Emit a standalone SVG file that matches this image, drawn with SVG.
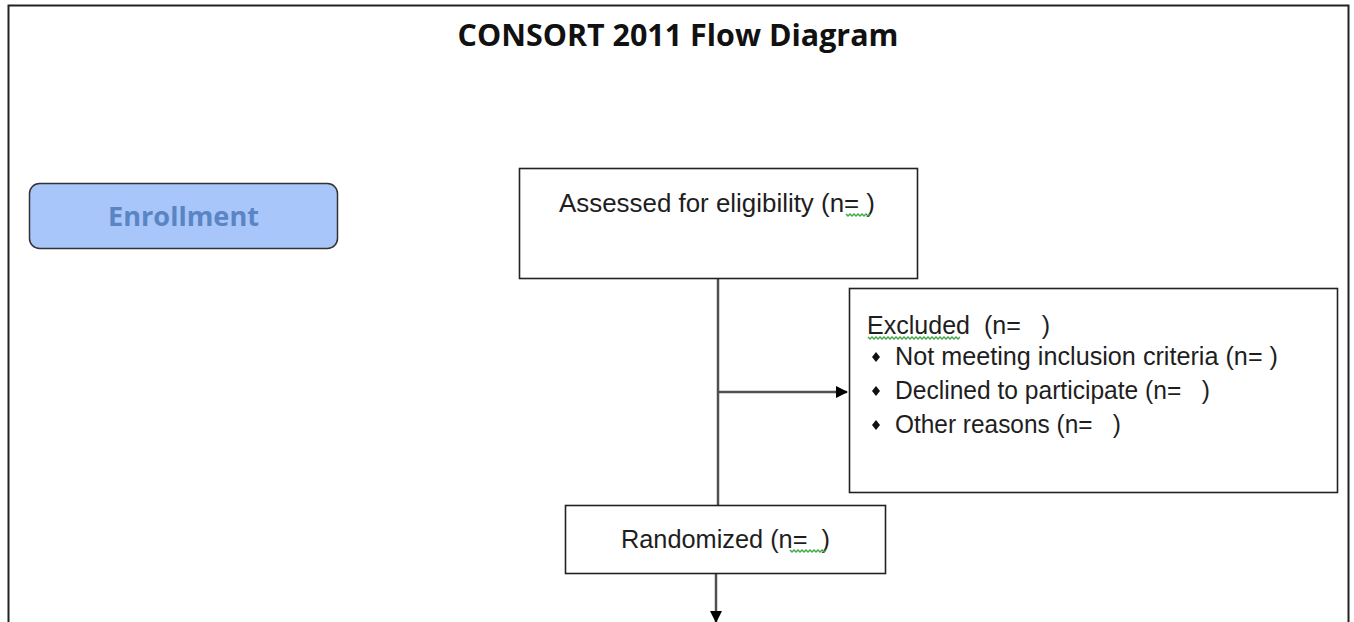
<svg xmlns="http://www.w3.org/2000/svg" width="1354" height="622" viewBox="0 0 1354 622">
<style>
.box{fill:#fff;stroke:#222;stroke-width:1.6}
.t{font-family:"Liberation Sans",Arial,sans-serif;font-size:25px;fill:#1e1e1e;white-space:pre}
.conn{stroke:#505050;stroke-width:2.5;fill:none}
.sq{stroke:#3aa640;stroke-width:1.3;fill:none}
</style>
<defs>
<marker id="arr" markerWidth="12" markerHeight="12" refX="11" refY="6" orient="auto" markerUnits="userSpaceOnUse">
<path d="M0,0 L12,6 L0,12 Z" fill="#000"/>
</marker>
</defs>
<rect x="0" y="0" width="1354" height="622" fill="#fff"/>
<path d="M8.5,630 V5.5 H1348.5 V630" fill="none" stroke="#222" stroke-width="2"/>
<text x="678" y="46" text-anchor="middle" font-family="'Open Sans','Liberation Sans',sans-serif" font-weight="bold" font-size="30" fill="#111" textLength="441" lengthAdjust="spacingAndGlyphs">CONSORT 2011 Flow Diagram</text>

<g id="enrollment">
<rect x="29.5" y="183.5" width="308" height="65" rx="10" fill="#a8c6fa" stroke="#333" stroke-width="1.5"/>
<text x="183.5" y="226" text-anchor="middle" font-family="'Open Sans','Liberation Sans',sans-serif" font-weight="bold" font-size="27" fill="#5a84c2" textLength="151" lengthAdjust="spacingAndGlyphs">Enrollment</text>
</g>

<g id="connectors">
<line class="conn" x1="718" y1="278" x2="718" y2="505"/>
<line class="conn" x1="718" y1="392" x2="847" y2="392" marker-end="url(#arr)"/>
<line class="conn" x1="716" y1="573" x2="716" y2="622" marker-end="url(#arr)"/>
</g>

<g id="assessed">
<rect class="box" x="519.5" y="168.5" width="398" height="110"/>
<text class="t" x="559" y="212" textLength="316" lengthAdjust="spacingAndGlyphs">Assessed for eligibility (n= )</text>
<path class="sq" d="M846,214 l2,2 l2,-2 l2,2 l2,-2 l2,2 l2,-2 l2,2 l2,-2 l2,2 l2,-2 l2,2 l2,-2"/>
</g>

<g id="excluded">
<rect class="box" x="849.5" y="288.5" width="488" height="204"/>
<text class="t" x="867" y="334" textLength="183" lengthAdjust="spacingAndGlyphs">Excluded  (n=   )</text>
<path class="sq" d="M868,337 l2,2 l2,-2 l2,2 l2,-2 l2,2 l2,-2 l2,2 l2,-2 l2,2 l2,-2 l2,2 l2,-2 l2,2 l2,-2 l2,2 l2,-2 l2,2 l2,-2 l2,2 l2,-2 l2,2 l2,-2 l2,2 l2,-2 l2,2 l2,-2 l2,2 l2,-2 l2,2 l2,-2 l2,2 l2,-2 l2,2 l2,-2 l2,2 l2,-2 l2,2 l2,-2 l2,2 l2,-2 l2,2 l2,-2 l2,2 l2,-2 l2,2 l2,-2"/>
<path d="M876,352 l4,5 l-4,5 l-4,-5 Z M876,386 l4,5 l-4,5 l-4,-5 Z M876,420 l4,5 l-4,5 l-4,-5 Z" fill="#111"/>
<text class="t" x="895" y="365" textLength="383" lengthAdjust="spacingAndGlyphs">Not meeting inclusion criteria (n= )</text>
<text class="t" x="895" y="399" textLength="315" lengthAdjust="spacingAndGlyphs">Declined to participate (n=   )</text>
<text class="t" x="895" y="433" textLength="226" lengthAdjust="spacingAndGlyphs">Other reasons (n=   )</text>
</g>

<g id="randomized">
<rect class="box" x="565.5" y="505.5" width="320" height="68"/>
<text class="t" x="621" y="548" textLength="209" lengthAdjust="spacingAndGlyphs">Randomized (n=  )</text>
<path class="sq" d="M790,550 l2,2 l2,-2 l2,2 l2,-2 l2,2 l2,-2 l2,2 l2,-2 l2,2 l2,-2 l2,2 l2,-2 l2,2 l2,-2 l2,2 l2,-2 l2,2 l2,-2"/>
</g>
</svg>
